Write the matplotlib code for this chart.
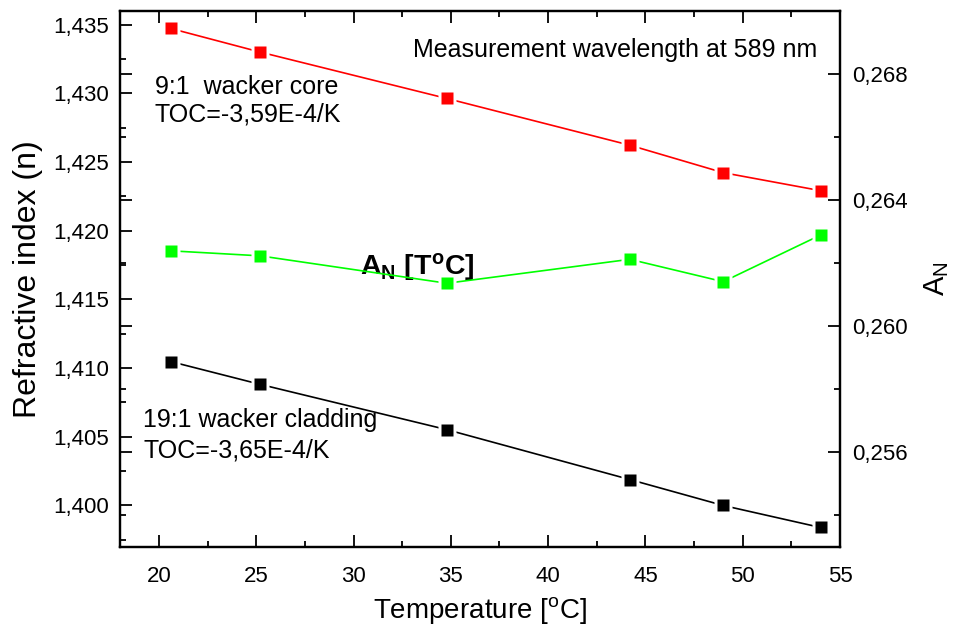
import matplotlib
matplotlib.use("Agg")
import matplotlib.pyplot as plt
from matplotlib.ticker import MultipleLocator, FuncFormatter

plt.rcParams['font.family'] = ['Liberation Sans', 'DejaVu Sans']
plt.rcParams['mathtext.fontset'] = 'custom'
plt.rcParams['mathtext.rm'] = 'Liberation Sans'
plt.rcParams['mathtext.it'] = 'Liberation Sans:italic'
plt.rcParams['mathtext.bf'] = 'Liberation Sans:bold'

# Data
temperature = [20.6, 25.2, 34.8, 44.2, 49.0, 54.0]
n_core = [1.43473, 1.43301, 1.42963, 1.42623, 1.42423, 1.42292]
n_cladding = [1.41048, 1.40882, 1.40552, 1.40189, 1.40000, 1.39840]
a_n = [0.26239, 0.26223, 0.26136, 0.26212, 0.26141, 0.26289]

x_ticks = [20, 25, 30, 35, 40, 45, 50, 55]
left_ticks = [1.400, 1.405, 1.410, 1.415, 1.420, 1.425, 1.430, 1.435]
right_ticks = [0.256, 0.260, 0.264, 0.268]

fig = plt.figure(figsize=(9.54, 6.34), dpi=100)
ax = fig.add_axes([120/954, 1-546.7/634, 720/954, 535.7/634])
ax2 = ax.twinx()

def draw(axis, y, color):
    axis.plot(temperature, y, '-', color=color, lw=1.2, zorder=2)
    axis.plot(temperature, y, 's', color='white', ms=12.5, mec='none', zorder=3)
    axis.plot(temperature, y, 's', color=color, ms=8.6, mec='none', zorder=4)

draw(ax, n_core, '#ff0000')
draw(ax, n_cladding, '#000000')
draw(ax2, a_n, '#00ff00')

ax.set_xlim(18.0, 55.0)
ax.set_ylim(1.397, 1.436)
ax2.set_ylim(0.253, 0.270)

ax.set_xticks(x_ticks)
ax.xaxis.set_minor_locator(MultipleLocator(2.5))
ax.set_yticks(left_ticks)
ax.yaxis.set_minor_locator(MultipleLocator(0.0025))
ax2.set_yticks(right_ticks)
ax2.yaxis.set_minor_locator(MultipleLocator(0.002))

comma3 = FuncFormatter(lambda v, p: f"{v:.3f}".replace('.', ','))
ax.yaxis.set_major_formatter(comma3)
ax2.yaxis.set_major_formatter(comma3)

for a in (ax, ax2):
    for s in a.spines.values():
        s.set_linewidth(1.6)

ax.tick_params(axis='both', which='major', direction='in', length=8.5, width=1.3,
               labelsize=16, pad=8, top=True, right=False)
ax.tick_params(axis='both', which='minor', direction='in', length=4.5, width=1.3,
               top=True, right=False)
ax.tick_params(axis='x', which='major', pad=14)
ax2.tick_params(axis='y', which='major', direction='in', length=8.5, width=1.3,
                labelsize=16, pad=9, left=True, right=True, labelleft=False, labelright=True)
ax2.tick_params(axis='y', which='minor', direction='in', length=4.5, width=1.3,
                left=True, right=True)

ax.set_xlabel(r'Temperature [$^{\mathrm{o}}$C]', fontsize=20, labelpad=6)
ax.set_ylabel('Refractive index (n)', fontsize=23, labelpad=7)
ax2.set_ylabel(r'A$_\mathrm{N}$', fontsize=21, labelpad=10)

ax.text(0.407, 0.927, 'Measurement wavelength at 589 nm', transform=ax.transAxes,
        fontsize=18, va='center', ha='left')
ax.text(0.0486, 0.8587, '9:1  wacker core', transform=ax.transAxes,
        fontsize=18, va='center', ha='left')
ax.text(0.0486, 0.8064, 'TOC=-3,59E-4/K', transform=ax.transAxes,
        fontsize=18, va='center', ha='left')
ax.text(0.032, 0.2365, '19:1 wacker cladding', transform=ax.transAxes,
        fontsize=18, va='center', ha='left')
ax.text(0.032, 0.1805, 'TOC=-3,65E-4/K', transform=ax.transAxes,
        fontsize=18, va='center', ha='left')
ax.text(0.333, 0.523, r'$\mathbf{A_N\ [T^oC]}$', transform=ax.transAxes,
        fontsize=20.5, va='center', ha='left', zorder=10)

fig.savefig('out.png', dpi=100)
